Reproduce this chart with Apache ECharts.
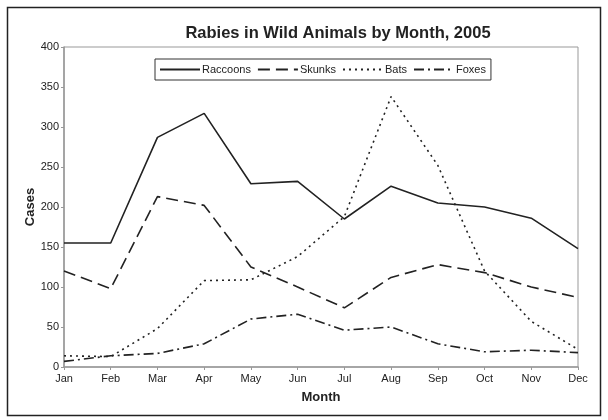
<!DOCTYPE html>
<html><head><meta charset="utf-8">
<script src="https://cdn.jsdelivr.net/npm/echarts@6/dist/echarts.min.js"></script>
<style>html,body{margin:0;padding:0;background:#fff}#c{width:608px;height:420px}</style>
</head><body><div id="c"></div>
<script>
const months = ['Jan','Feb','Mar','Apr','May','Jun','Jul','Aug','Sep','Oct','Nov','Dec'];
const raccoons = [155,155,287,317,229,232,185,226,205,200,186,148];
const skunks   = [120,98,213,202,125,100,74,112,128,118,100,87];
const bats     = [14,13,48,108,109,138,188,338,252,120,57,22];
const foxes    = [7,14,17,29,60,66,46,50,29,19,21,18];
const yTicks = {min:0, max:400, interval:50};

const font = 'Liberation Sans, Arial, sans-serif';
const ink = '#222';
function ser(name, data, type){
  return {name, type:'line', data, symbol:'none', showSymbol:false,
    lineStyle:{color:ink, width:1.6, type}, itemStyle:{color:ink}, silent:true, animation:false};
}
const chart = echarts.init(document.getElementById('c'), null, {renderer:'canvas'});
chart.setOption({
  animation:false,
  backgroundColor:'#fff',
  title:{text:'Rabies in Wild Animals by Month, 2005', left:333, textAlign:'center', top:20,
    textStyle:{fontFamily:font, fontSize:16.5, fontWeight:'bold', color:ink}},
  legend:{left:155, top:59, orient:'horizontal', borderColor:'#333', borderWidth:1, padding:[5,5,5,4],
    itemWidth:40, itemHeight:10, itemGap:6, itemStyle:{opacity:0},
    textStyle:{fontFamily:font, fontSize:11, color:ink, padding:[0,0,0,-3]},
    data:['Raccoons','Skunks','Bats','Foxes']},
  grid:{left:64, right:30, top:47, bottom:53, show:true, borderColor:'#999', borderWidth:1, containLabel:false},
  xAxis:{type:'category', data:months, boundaryGap:false,
    name:'Month', nameLocation:'middle', nameGap:24, nameMoveOverlap:false,
    nameTextStyle:{fontFamily:font, fontSize:13, fontWeight:'bold', color:ink},
    axisLine:{lineStyle:{color:'#999', width:1.5}}, axisTick:{show:true, length:3, lineStyle:{color:'#999'}},
    axisLabel:{fontFamily:font, fontSize:11, color:ink, margin:6, interval:0}, splitLine:{show:false}},
  yAxis:{type:'value', min:yTicks.min, max:yTicks.max, interval:yTicks.interval,
    name:'Cases', nameLocation:'middle', nameGap:27, nameMoveOverlap:false,
    nameTextStyle:{fontFamily:font, fontSize:13, fontWeight:'bold', color:ink},
    axisLine:{show:true, lineStyle:{color:'#999', width:1.5}}, axisTick:{show:true, length:3, lineStyle:{color:'#999'}},
    axisLabel:{fontFamily:font, fontSize:11, color:ink, margin:5}, splitLine:{show:false}},
  graphic:[{type:'rect', shape:{x:7.5, y:7.5, width:593, height:408}, style:{fill:'none', stroke:'#222', lineWidth:1.5}, silent:true}],
  series:[
    ser('Raccoons', raccoons, 'solid'),
    ser('Skunks', skunks, [12,6]),
    ser('Bats', bats, [2,4]),
    ser('Foxes', foxes, [10,4,2,4])
  ]
});
</script></body></html>
